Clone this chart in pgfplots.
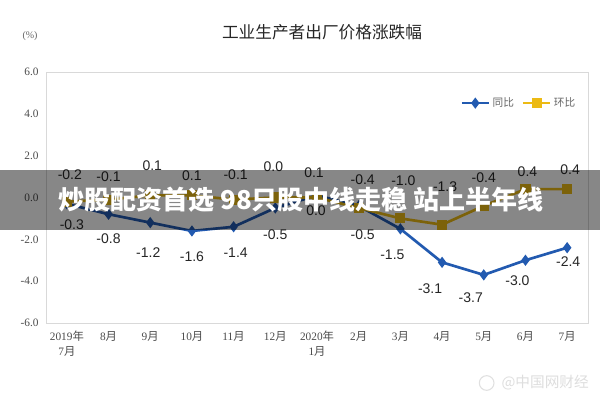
\documentclass[border=0pt]{standalone}
\usepackage{pgfplots}
\pgfplotsset{compat=1.18}
\usepackage{pgfplotstable}
\usepackage{fontspec}
\setmainfont{Liberation Sans}
\newfontfamily\cjk{Noto Sans CJK SC}
\newfontfamily\serifnum{Liberation Serif}
\definecolor{yoyblue}{RGB}{34,90,176}
\definecolor{momgold}{RGB}{236,186,20}

\pgfplotstableread{
x  v    lab   dy     dx
0  -0.2 -0.2  20.25  2.25
1  -0.1 -0.1  17.25  0
2  0.1  0.1   22.5   1.5
3  0.1  0.1   15     0
4  -0.1 -0.1  18.75  1.5
5  0.0  0.0   23.25  -1.5
6  0.0  0.0   -9.75  -0.75
7  -0.5 -0.5  -20.25 3
8  -1.0 -1.0  28.5   2.25
9  -1.3 -1.3  28.5   2.25
10 -0.4 -0.4  21     0
11 0.4  0.4   12.75  1.5
12 0.4  0.4   14.25  2.25
}\momtable

\pgfplotstableread{
x  v    lab   dy     dx
0  -0.3 -0.3  -15.75 3.75
1  -0.8 -0.8  -18    0
2  -1.2 -1.2  -22.5  -1.5
3  -1.6 -1.6  -19.5  0
4  -1.4 -1.4  -19.5  1.5
5  -0.5 -0.5  -20.25 0
6  0.1  0.1   17.25  -2.25
7  -0.4 -0.4  19.5   3
8  -1.5 -1.5  -19.5  -6
9  -3.1 -3.1  -19.5  -9
10 -3.7 -3.7  -17.25 -9.75
11 -3.0 -3.0  -15    -6
12 -2.4 -2.4  -10.5  0.75
}\yoytable

\newcommand\yue[1]{#1{\cjk 月}}
\newcommand\nian[1]{#1{\cjk 年}}

\begin{document}
\begin{tikzpicture}[x=1pt,y=1pt]
\useasboundingbox (0,0) rectangle (450,300);
\fill[white] (0,0) rectangle (450,300);
\begin{axis}[
  at={(34.5pt,57.75pt)}, anchor=south west,
  scale only axis, width=406.5pt, height=188.25pt,
  xmin=-0.5, xmax=12.5, ymin=-6, ymax=6,
  axis line style={draw=black!15},
  xtick={0,...,12},
  xticklabels={{\nian{2019}\\\yue{7}},\yue{8},\yue{9},\yue{10},\yue{11},\yue{12},{\nian{2020}\\\yue{1}},\yue{2},\yue{3},\yue{4},\yue{5},\yue{6},\yue{7}},
  xticklabel style={align=center, font=\serifnum\fontsize{8.5}{11}\selectfont, text=black!70, inner sep=0pt, yshift=-6pt},
  ytick={-6,-4,...,6},
  yticklabels={-6.0,-4.0,-2.0,0.0,2.0,4.0,6.0},
  yticklabel style={font=\serifnum\fontsize{8.5}{10}\selectfont, text=black!70, xshift=-2pt},
  tick style={draw=none},
  clip=false,
  legend style={at={(rel axis cs:0.982,0.876)}, anchor=east, draw=none, fill=none,
    font=\cjk\fontsize{8}{9}\selectfont, text=black!60, legend columns=2,
    /tikz/every even column/.append style={column sep=4pt}, inner sep=0pt},
  legend image code/.code={\draw[mark repeat=2,mark phase=2,#1] plot coordinates {(0pt,0pt)(10pt,0pt)(20pt,0pt)};},
  nodes near coords,
  point meta=explicit symbolic,
  visualization depends on={\thisrow{dy} \as \dyv},
  visualization depends on={\thisrow{dx} \as \dxv},
  every node near coord/.append style={anchor=center, xshift=\dxv pt, yshift=\dyv pt,
    font=\fontsize{10.5}{12}\selectfont, text=black!85, inner sep=0pt},
]
\addplot[yoyblue, line width=2pt, mark=diamond*, mark size=2.6pt, mark options={solid}]
  table[x=x, y=v, meta=lab] {\yoytable};
\addlegendentry{同比}
\addplot[momgold, line width=2pt, mark=square*, mark size=2.8pt]
  table[x=x, y=v, meta=lab] {\momtable};
\addlegendentry{环比}
\end{axis}
% title and unit
\node[font=\cjk\fontsize{12.5}{14}\selectfont, text=black!85] at (241.5,276) {工业生产者出厂价格涨跌幅};
\node[font=\serifnum\fontsize{7.5}{9}\selectfont, text=black!60] at (22.5,273) {(\%)};
% overlay band
\fill[black, opacity=0.47] (0,127.5) rectangle (450,172.5);
\node[anchor=west, font=\cjk\bfseries\fontsize{19.5}{21}\selectfont, text=white, inner sep=0pt] at (43.5,150) {炒股配资首选 98只股中线走稳 站上半年线};
% watermark
\draw[black!12, line width=0.8pt] (365,12.75) circle (5.5pt);
\node[anchor=west, font=\cjk\fontsize{11}{12}\selectfont, text=black!13, inner sep=0pt] at (376,12.75) {@中国网财经};
\end{tikzpicture}
\end{document}
